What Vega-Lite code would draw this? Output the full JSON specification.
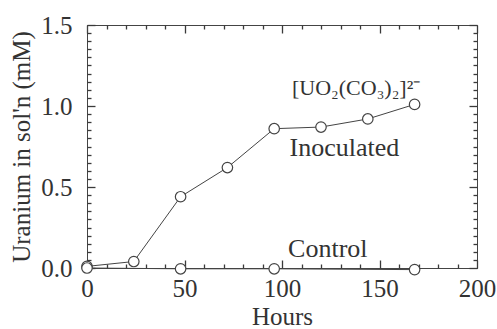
{
  "$schema": "https://vega.github.io/schema/vega-lite/v6.json",
  "width": 390,
  "height": 243,
  "autosize": "none",
  "padding": {"left": 87, "top": 25, "right": 20, "bottom": 61},
  "background": "white",
  "config": {
    "view": {"stroke": "#444", "strokeWidth": 1},
    "font": "Liberation Serif",
    "axis": {
      "grid": false,
      "domainColor": "#444",
      "tickColor": "#3a3a3a",
      "tickWidth": 1.3,
      "labelColor": "#333",
      "titleColor": "#333",
      "labelFont": "Liberation Serif",
      "titleFont": "Liberation Serif",
      "labelFontSize": 25,
      "titleFontSize": 25,
      "titleFontWeight": "normal",
      "labelFlush": false,
      "labelOverlap": false,
      "zindex": 2
    }
  },
  "datasets": {
    "inoc": [
      {"hours": 0, "u": 0.01},
      {"hours": 24, "u": 0.04},
      {"hours": 48, "u": 0.44},
      {"hours": 72, "u": 0.62},
      {"hours": 96, "u": 0.86},
      {"hours": 120, "u": 0.87},
      {"hours": 144, "u": 0.92},
      {"hours": 168, "u": 1.01}
    ],
    "ctrl": [
      {"hours": 0, "u": 0.0},
      {"hours": 48, "u": -0.005},
      {"hours": 96, "u": -0.005},
      {"hours": 168, "u": -0.01}
    ],
    "labels": [
      {"hours": 138, "u": 1.11, "text": "[UO₂(CO₃)₂]²⁻", "size": 22},
      {"hours": 132, "u": 0.74, "text": "Inoculated", "size": 26},
      {"hours": 123.5, "u": 0.117, "text": "Control", "size": 26}
    ]
  },
  "resolve": {"axis": {"x": "independent", "y": "independent"}},
  "layer": [
    {
      "data": {"name": "inoc"},
      "mark": {"type": "line", "color": "#444", "strokeWidth": 1},
      "encoding": {
        "x": {
          "field": "hours", "type": "quantitative",
          "scale": {"domain": [0, 200], "nice": false},
          "axis": {
            "orient": "bottom", "title": "Hours", "titlePadding": 3,
            "values": [0, 50, 100, 150, 200],
            "ticks": false, "labelPadding": 8
          }
        },
        "y": {
          "field": "u", "type": "quantitative",
          "scale": {"domain": [0, 1.5], "nice": false},
          "axis": {
            "orient": "left", "title": "Uranium in sol'n (mM)", "titlePadding": 6,
            "values": [0, 0.5, 1, 1.5], "format": ".1f",
            "ticks": false, "labelPadding": 15
          }
        }
      }
    },
    {
      "data": {"name": "inoc"},
      "mark": {"type": "point", "shape": "circle", "filled": true, "fill": "white", "stroke": "#444", "strokeWidth": 1.2, "size": 110, "opacity": 1},
      "encoding": {
        "x": {
          "field": "hours", "type": "quantitative",
          "axis": {"orient": "top", "offset": -243, "domain": false, "title": null, "labels": false, "values": [0, 50, 100, 150, 200], "tickSize": 8}
        },
        "y": {
          "field": "u", "type": "quantitative",
          "axis": {"orient": "right", "offset": -390, "domain": false, "title": null, "labels": false, "values": [0, 0.5, 1, 1.5], "tickSize": 8}
        }
      }
    },
    {
      "data": {"name": "ctrl"},
      "mark": {"type": "line", "color": "#444", "strokeWidth": 1},
      "encoding": {
        "x": {
          "field": "hours", "type": "quantitative",
          "axis": {"orient": "top", "offset": -243, "domain": false, "title": null, "labels": false, "values": [10,20,30,40,60,70,80,90,110,120,130,140,160,170,180,190], "tickSize": 4}
        },
        "y": {
          "field": "u", "type": "quantitative",
          "axis": {"orient": "right", "offset": -390, "domain": false, "title": null, "labels": false, "values": [0.05,0.1,0.15,0.2,0.25,0.3,0.35,0.4,0.45,0.55,0.6,0.65,0.7,0.75,0.8,0.85,0.9,0.95,1.05,1.1,1.15,1.2,1.25,1.3,1.35,1.4,1.45], "tickSize": 4}
        }
      }
    },
    {
      "data": {"name": "ctrl"},
      "mark": {"type": "point", "shape": "circle", "filled": true, "fill": "white", "stroke": "#444", "strokeWidth": 1.2, "size": 110, "opacity": 1},
      "encoding": {
        "x": {
          "field": "hours", "type": "quantitative",
          "axis": {"orient": "bottom", "offset": -243, "domain": false, "title": null, "labels": false, "values": [0, 50, 100, 150, 200], "tickSize": 8}
        },
        "y": {
          "field": "u", "type": "quantitative",
          "axis": {"orient": "left", "offset": -390, "domain": false, "title": null, "labels": false, "values": [0, 0.5, 1, 1.5], "tickSize": 8}
        }
      }
    },
    {
      "data": {"name": "labels"},
      "mark": {"type": "text", "font": "Liberation Serif", "color": "#333", "align": "center", "baseline": "middle"},
      "encoding": {
        "x": {
          "field": "hours", "type": "quantitative",
          "axis": {"orient": "bottom", "offset": -243, "domain": false, "title": null, "labels": false, "values": [10,20,30,40,60,70,80,90,110,120,130,140,160,170,180,190], "tickSize": 4}
        },
        "y": {
          "field": "u", "type": "quantitative",
          "axis": {"orient": "left", "offset": -390, "domain": false, "title": null, "labels": false, "values": [0.05,0.1,0.15,0.2,0.25,0.3,0.35,0.4,0.45,0.55,0.6,0.65,0.7,0.75,0.8,0.85,0.9,0.95,1.05,1.1,1.15,1.2,1.25,1.3,1.35,1.4,1.45], "tickSize": 4}
        },
        "text": {"field": "text"},
        "size": {"field": "size", "type": "quantitative", "scale": null, "legend": null}
      }
    }
  ]
}
